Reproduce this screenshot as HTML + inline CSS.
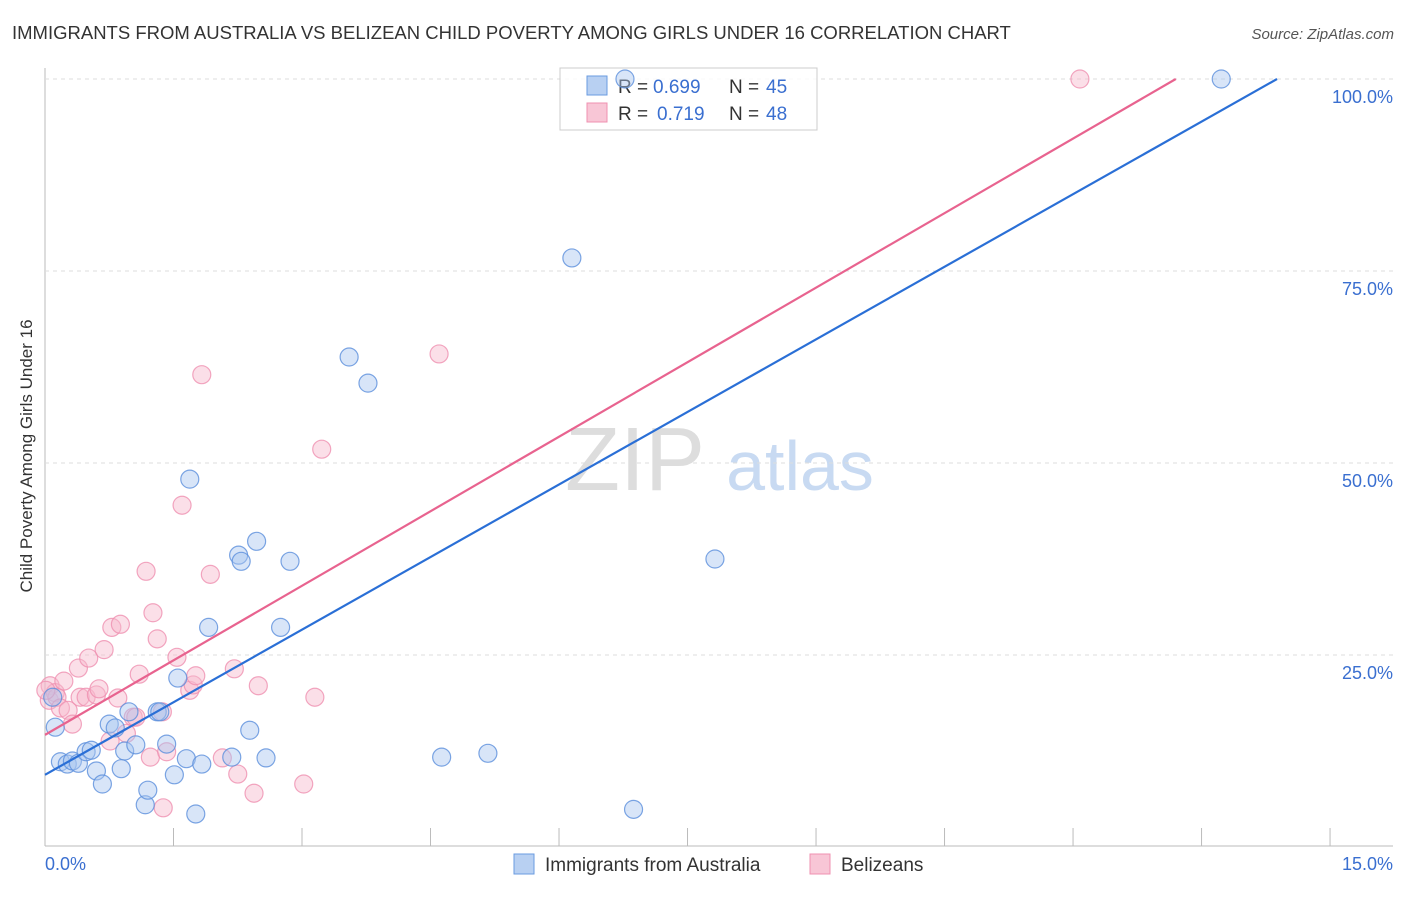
<!DOCTYPE html>
<html><head><meta charset="utf-8"><style>
body{margin:0;background:#fff;font-family:"Liberation Sans",sans-serif}
svg text{font-family:"Liberation Sans",sans-serif}
</style></head><body>
<svg id="c" width="1406" height="892">
<text x="12" y="39" font-size="18.5" fill="#333">IMMIGRANTS FROM AUSTRALIA VS BELIZEAN CHILD POVERTY AMONG GIRLS UNDER 16 CORRELATION CHART</text>
<text x="1394" y="39" font-size="15" fill="#555" text-anchor="end" font-style="italic">Source: ZipAtlas.com</text>
<text x="32" y="456" font-size="17" fill="#333" text-anchor="middle" transform="rotate(-90 32 456)">Child Poverty Among Girls Under 16</text>
<text x="635" y="490" font-size="90" fill="#ddd" font-family="Liberation Serif" text-anchor="middle">ZIP</text>
<text x="800" y="490" font-size="70" fill="#c8daf2" text-anchor="middle">atlas</text>
<g id="grid"></g>
<g>
<rect x="560" y="68" width="257" height="62" fill="#fff" fill-opacity="0.85" stroke="#ccc"/>
<rect x="587" y="76" width="20" height="19" fill="#b8d0f2" stroke="#6a9be0"/>
<rect x="587" y="103" width="20" height="19" fill="#f8c6d6" stroke="#ef90b0"/>
<text x="618" y="93" font-size="19" fill="#333">R =</text>
<text x="653" y="93" font-size="19" fill="#3a6fd0">0.699</text>
<text x="729" y="93" font-size="19" fill="#333">N =</text>
<text x="766" y="93" font-size="19" fill="#3a6fd0">45</text>
<text x="618" y="120" font-size="19" fill="#333">R =</text>
<text x="657" y="120" font-size="19" fill="#3a6fd0">0.719</text>
<text x="729" y="120" font-size="19" fill="#333">N =</text>
<text x="766" y="120" font-size="19" fill="#3a6fd0">48</text>
</g>
<g id="pts"></g><g id="lines"></g>
<g>
<rect x="514" y="854" width="20" height="20" fill="#b8d0f2" stroke="#6a9be0"/>
<text x="545" y="871" font-size="19" fill="#333">Immigrants from Australia</text>
<rect x="810" y="854" width="20" height="20" fill="#f8c6d6" stroke="#ef90b0"/>
<text x="841" y="871" font-size="19" fill="#333">Belizeans</text>
</g>
<text x="45" y="870" font-size="18" fill="#3a6fd0">0.0%</text>
<text x="1393" y="870" font-size="18" fill="#3a6fd0" text-anchor="end">15.0%</text>
</svg>
<script>
const yTicks=[25,50,75,100];
const yTickLabels=["25.0%","50.0%","75.0%","100.0%"];
const xTicks=[0,1.5,3,4.5,6,7.5,9,10.5,12,13.5,15];
const blueX=[0.12,0.09,0.18,0.26,0.32,0.39,0.48,0.54,0.60,0.67,0.75,0.82,0.89,0.93,1.06,0.98,1.17,1.20,1.31,1.42,1.51,1.55,1.65,1.69,1.76,1.83,1.91,2.18,2.26,2.29,2.39,2.47,2.58,2.75,2.86,3.55,3.77,4.63,5.17,6.15,6.87,7.82,13.73,6.77,1.34];
const blueY=[15.6,19.5,11.1,10.8,11.2,10.9,12.4,12.6,9.9,8.2,16.0,15.5,10.2,12.5,13.3,17.6,5.5,7.4,17.6,13.4,9.4,22.0,11.5,47.9,4.3,10.8,28.6,11.7,38.0,37.2,15.2,39.8,11.6,28.6,37.2,63.8,60.4,11.7,12.2,76.7,4.9,37.5,100,100,17.6];
const pinkX=[0.06,0.05,0.12,0.14,0.18,0.22,0.27,0.32,0.39,0.41,0.48,0.51,0.60,0.63,0.69,0.76,0.78,0.85,0.88,0.95,1.03,1.06,1.10,1.18,1.23,1.26,1.31,1.37,1.38,1.42,1.54,1.60,1.69,1.73,1.76,1.83,1.93,2.07,2.21,2.25,2.44,2.49,3.02,3.15,3.23,4.60,12.08,0.01];
const pinkY=[21.0,19.1,20.1,19.5,18.1,21.6,17.8,16.0,23.3,19.5,19.5,24.6,19.8,20.6,25.7,13.8,28.6,19.4,29.0,14.8,16.9,16.9,22.5,35.9,11.7,30.5,27.1,17.6,5.1,12.4,24.7,44.5,20.4,21.1,22.3,61.5,35.5,11.6,23.2,9.5,7.0,21.0,8.2,19.5,51.8,64.2,100,20.4];
const blueFit=[9.4,6.30];
const pinkFit=[14.6,6.47];
const NS="http://www.w3.org/2000/svg";
const X=v=>45+v*85.67, Y=v=>847-v*7.68;
function mk(t,a,p){const e=document.createElementNS(NS,t);for(const k in a)e.setAttribute(k,a[k]);p.appendChild(e);return e;}
const g=document.getElementById('grid');
let ax=mk('line',{x1:45,y1:68,x2:45,y2:846,stroke:'#bbb'},g);


let bx=mk('line',{x1:45,y1:846,x2:1393,y2:846,stroke:'#bbb'},g);


yTicks.forEach((t,i)=>{
 const l=mk('line',{x1:45,y1:Y(t),x2:1393,y2:Y(t),stroke:'#ddd','stroke-dasharray':'4,4'},g);
 
 
 const tx=mk('text',{x:1393,y:Y(t)+24,'font-size':18,fill:'#3a6fd0','text-anchor':'end'},g);
 tx.textContent=yTickLabels[i];
 
 
});
xTicks.forEach(t=>{
 const l=mk('line',{x1:X(t),y1:828,x2:X(t),y2:846,stroke:'#bbb'},g);
 
 
});
const p=document.getElementById('pts');
function dots(xs,ys,f,s,n){xs.forEach((x,i)=>{
 const c=mk('circle',{cx:X(x),cy:Y(ys[i]),r:9,fill:f,'fill-opacity':0.45,stroke:s,'stroke-opacity':0.8,'stroke-width':1.2},p);
 
 
});}
dots(pinkX,pinkY,'#f7b8cc','#ef90b0','belizean-point');
dots(blueX,blueY,'#a9c6f0','#5b8fdc','australia-point');
const L=document.getElementById('lines');
function fit(f,c,n){const x2=Math.min(15,(100-f[0])/f[1]);
 const l=mk('line',{x1:X(0),y1:Y(f[0]),x2:X(x2),y2:Y(f[0]+f[1]*x2),stroke:c,'stroke-width':2.2},L);
 
 }
fit(pinkFit,'#e8638f','belizean-trendline');
fit(blueFit,'#2a6fd6','australia-trendline');
</script>
</body></html>
